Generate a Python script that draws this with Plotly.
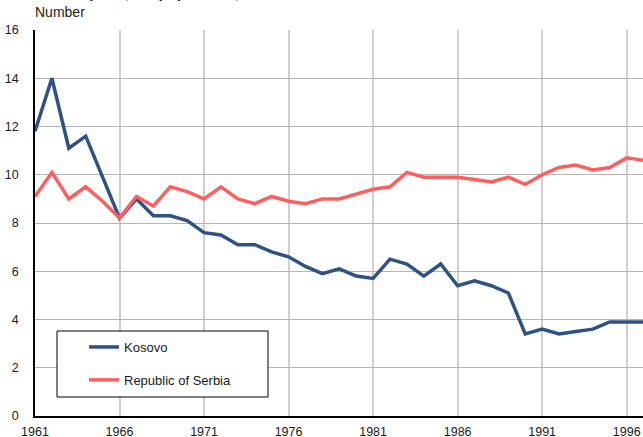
import plotly.graph_objects as go

years = list(range(1961, 1998))
kosovo = [11.8, 14.0, 11.1, 11.6, 9.9, 8.2, 9.0, 8.3, 8.3, 8.1,
          7.6, 7.5, 7.1, 7.1, 6.8, 6.6, 6.2, 5.9, 6.1, 5.8,
          5.7, 6.5, 6.3, 5.8, 6.3, 5.4, 5.6, 5.4, 5.1, 3.4,
          3.6, 3.4, 3.5, 3.6, 3.9, 3.9, 3.9]
serbia = [9.1, 10.1, 9.0, 9.5, 8.9, 8.2, 9.1, 8.7, 9.5, 9.3,
          9.0, 9.5, 9.0, 8.8, 9.1, 8.9, 8.8, 9.0, 9.0, 9.2,
          9.4, 9.5, 10.1, 9.9, 9.9, 9.9, 9.8, 9.7, 9.9, 9.6,
          10.0, 10.3, 10.4, 10.2, 10.3, 10.7, 10.6]
x_ticks = [1961, 1966, 1971, 1976, 1981, 1986, 1991, 1996]
y_ticks = [0, 2, 4, 6, 8, 10, 12, 14, 16]

W, H = 643, 437
ML, MR, MT, MB = 35, 0, 30, 21
PW, PH = W - ML - MR, H - MT - MB

def px(xp):
    return (xp - ML) / PW

def py(yp):
    return (H - MB - yp) / PH

FONT = "Liberation Sans, Arial, sans-serif"

fig = go.Figure()
fig.add_trace(go.Scatter(x=years, y=kosovo, mode="lines", name="Kosovo",
                         line=dict(color="#2F5285", width=3.5),
                         legendgroup="a"))
fig.add_trace(go.Scatter(x=years, y=serbia, mode="lines", name="Republic of Serbia",
                         line=dict(color="#FF5E5E", width=3.5),
                         legendgroup="b"))

fig.update_layout(
    width=W, height=H,
    margin=dict(l=ML, r=MR, t=MT, b=MB, pad=0, autoexpand=False),
    paper_bgcolor="white", plot_bgcolor="white",
    font=dict(family=FONT, size=12.5, color="#1a1a1a"),
    showlegend=True,
    legend=dict(x=px(84), y=py(332), xanchor="left", yanchor="top",
                bgcolor="rgba(0,0,0,0)", borderwidth=0,
                font=dict(family=FONT, size=13, color="#1a1a1a"),
                tracegroupgap=13, itemwidth=30),
    xaxis=dict(range=[1961, 1961 + PW / 16.905], tickvals=x_ticks,
               showgrid=True, gridcolor="#cfcfcf", gridwidth=2,
               showline=True, linecolor="black", linewidth=1.5,
               ticks="", ticklabelstandoff=3, zeroline=False,
               automargin=False, tickfont=dict(size=12.5)),
    yaxis=dict(range=[0, 16], tickvals=y_ticks,
               showgrid=True, gridcolor="#b5b5b5", gridwidth=1,
               showline=True, linecolor="black", linewidth=1.5,
               ticks="", ticklabelstandoff=12, zeroline=False,
               automargin=False, tickfont=dict(size=12.5)),
    shapes=[dict(type="rect", xref="paper", yref="paper",
                 x0=px(57), x1=px(268), y0=py(397), y1=py(331),
                 line=dict(color="black", width=1), fillcolor="white",
                 layer="above")],
    annotations=[
        dict(text="Number", xref="paper", yref="paper", x=px(33), y=py(22),
             xanchor="left", yanchor="bottom", showarrow=False,
             font=dict(family=FONT, size=14, color="#1a1a1a")),
        dict(text="<b>Deaths per 1,000 population, 1961-2011</b>", xref="paper", yref="paper",
             x=px(33), y=py(3), xanchor="left", yanchor="bottom", showarrow=False,
             font=dict(family=FONT, size=15, color="#1a1a1a")),
    ],
)

fig.write_html("out.html", config={"displayModeBar": False},
               post_script="document.body.style.margin='0';document.body.style.overflow='hidden';")
